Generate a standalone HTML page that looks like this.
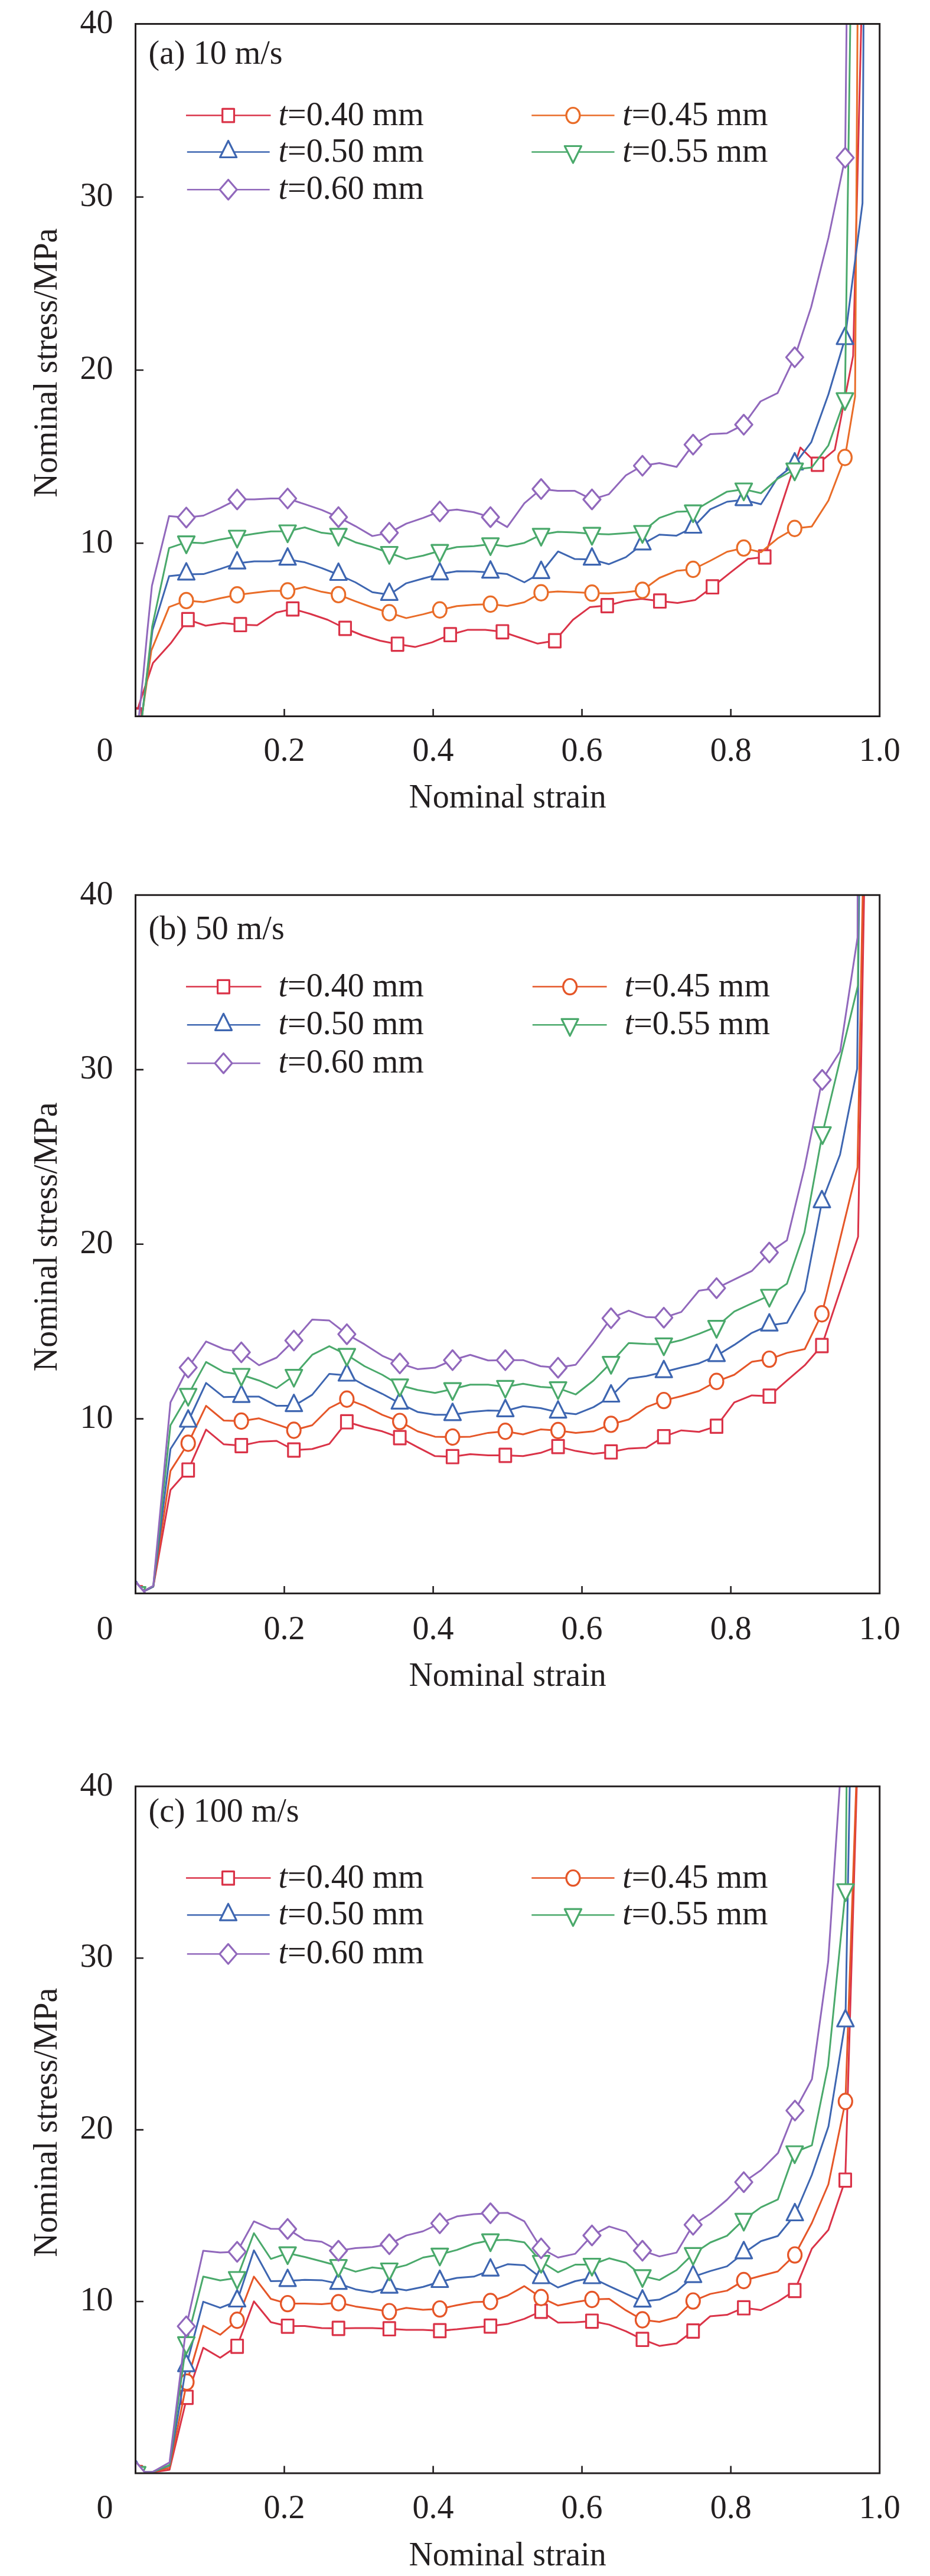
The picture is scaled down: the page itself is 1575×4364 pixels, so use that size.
<!DOCTYPE html>
<html><head><meta charset="utf-8"><title>Nominal stress vs nominal strain</title>
<style>
html,body{margin:0;padding:0;background:#fff;}
svg{display:block;}
text{font-family:"Liberation Serif","Times New Roman",serif;fill:#231f20;}
</style></head><body>
<svg width="1575" height="4364" viewBox="0 0 1575 4364">
<rect x="0" y="0" width="1575" height="4364" fill="#fff"/>
<defs>
<clipPath id="clipa"><rect x="229.5" y="40.5" width="1260.2" height="1173"/></clipPath>
<clipPath id="clipb"><rect x="229.5" y="1516.3" width="1260.2" height="1183.1"/></clipPath>
<clipPath id="clipc"><rect x="229.5" y="3026.3" width="1260.2" height="1163.6"/></clipPath>
</defs>
<g id="panel-a"><g clip-path="url(#clipa)" fill="none" stroke-linejoin="round" stroke-linecap="butt">
<path d="M229.5,1212 L259,1123.2 L289.1,1089.8 L318.3,1049.6 L348.4,1060 L377.4,1055.5 L407,1058.2 L435.5,1059.2 L467.7,1037.7 L495.8,1031.6 L525.4,1040 L555,1050 L584.5,1064.5 L614,1076.5 L643.8,1085.5 L673.2,1091.3 L702.9,1096.1 L731.9,1088.1 L762.5,1075.2 L791.6,1067.1 L821.9,1067.1 L850.9,1070.3 L881,1080.5 L910.6,1090.3 L939.6,1085.5 L970.3,1050 L999.3,1028.4 L1028.4,1026 L1059,1017.9 L1086.4,1014.6 L1117.5,1018.2 L1147.4,1021.5 L1177.2,1016.6 L1206.6,994.2 L1237.7,969.4 L1266.7,946.8 L1295.1,943.5 L1325,851 L1355.5,758.1 L1384.5,786.5 L1413.7,762.2 L1444.8,603 L1462,-100" stroke="#da3348" stroke-width="3.0"/>
<rect x="219.6" y="1199.7" width="19.8" height="22.6" fill="#fff" stroke="#da3348" stroke-width="3.2" stroke-linejoin="round"/>
<rect x="219.6" y="1200.7" width="19.8" height="22.6" fill="#fff" stroke="#da3348" stroke-width="3.2" stroke-linejoin="round"/>
<rect x="308.4" y="1038.3" width="19.8" height="22.6" fill="#fff" stroke="#da3348" stroke-width="3.2" stroke-linejoin="round"/>
<rect x="397.1" y="1046.9" width="19.8" height="22.6" fill="#fff" stroke="#da3348" stroke-width="3.2" stroke-linejoin="round"/>
<rect x="485.9" y="1020.3" width="19.8" height="22.6" fill="#fff" stroke="#da3348" stroke-width="3.2" stroke-linejoin="round"/>
<rect x="574.6" y="1053.2" width="19.8" height="22.6" fill="#fff" stroke="#da3348" stroke-width="3.2" stroke-linejoin="round"/>
<rect x="663.3" y="1080" width="19.8" height="22.6" fill="#fff" stroke="#da3348" stroke-width="3.2" stroke-linejoin="round"/>
<rect x="752.6" y="1063.9" width="19.8" height="22.6" fill="#fff" stroke="#da3348" stroke-width="3.2" stroke-linejoin="round"/>
<rect x="841" y="1059" width="19.8" height="22.6" fill="#fff" stroke="#da3348" stroke-width="3.2" stroke-linejoin="round"/>
<rect x="929.7" y="1074.2" width="19.8" height="22.6" fill="#fff" stroke="#da3348" stroke-width="3.2" stroke-linejoin="round"/>
<rect x="1018.5" y="1014.7" width="19.8" height="22.6" fill="#fff" stroke="#da3348" stroke-width="3.2" stroke-linejoin="round"/>
<rect x="1107.6" y="1006.9" width="19.8" height="22.6" fill="#fff" stroke="#da3348" stroke-width="3.2" stroke-linejoin="round"/>
<rect x="1196.7" y="982.9" width="19.8" height="22.6" fill="#fff" stroke="#da3348" stroke-width="3.2" stroke-linejoin="round"/>
<rect x="1285.2" y="932.2" width="19.8" height="22.6" fill="#fff" stroke="#da3348" stroke-width="3.2" stroke-linejoin="round"/>
<rect x="1374.6" y="775.2" width="19.8" height="22.6" fill="#fff" stroke="#da3348" stroke-width="3.2" stroke-linejoin="round"/>
<path d="M240,1216 L256.4,1101.9 L286.4,1028.4 L315.5,1017.4 L344.5,1020 L372.9,1013.5 L401.6,1007.7 L430.6,1004.2 L458.7,1001 L487.1,1001 L516.1,994.5 L544.8,1002.6 L573.2,1007.4 L601.9,1018.7 L630.6,1029 L659.3,1038 L688,1047.1 L716.7,1040.6 L744.8,1033.2 L773.8,1026.8 L802.5,1024.5 L830.6,1023.5 L859,1026.8 L888,1020.3 L916.4,1004.2 L944.5,1001.9 L973.5,1003.2 L1002.5,1004.8 L1030.9,1005.2 L1060,1003.2 L1088,1000 L1116.7,979 L1145.8,967.1 L1173.8,964.5 L1202.9,950 L1231.3,934.8 L1259.6,928.4 L1288.7,935.5 L1316.7,912.3 L1345.8,895.2 L1374.8,891.9 L1403,848 L1430.9,775 L1448.1,671.8 L1453.2,-100" stroke="#e96c28" stroke-width="3.0"/>
<ellipse cx="315.5" cy="1017.4" rx="11.5" ry="13.1" fill="#fff" stroke="#e96c28" stroke-width="3.2" stroke-linejoin="round"/>
<ellipse cx="401.6" cy="1007.7" rx="11.5" ry="13.1" fill="#fff" stroke="#e96c28" stroke-width="3.2" stroke-linejoin="round"/>
<ellipse cx="487.1" cy="1001" rx="11.5" ry="13.1" fill="#fff" stroke="#e96c28" stroke-width="3.2" stroke-linejoin="round"/>
<ellipse cx="573.2" cy="1007.4" rx="11.5" ry="13.1" fill="#fff" stroke="#e96c28" stroke-width="3.2" stroke-linejoin="round"/>
<ellipse cx="659.3" cy="1038" rx="11.5" ry="13.1" fill="#fff" stroke="#e96c28" stroke-width="3.2" stroke-linejoin="round"/>
<ellipse cx="744.8" cy="1033.2" rx="11.5" ry="13.1" fill="#fff" stroke="#e96c28" stroke-width="3.2" stroke-linejoin="round"/>
<ellipse cx="830.6" cy="1023.5" rx="11.5" ry="13.1" fill="#fff" stroke="#e96c28" stroke-width="3.2" stroke-linejoin="round"/>
<ellipse cx="916.4" cy="1004.2" rx="11.5" ry="13.1" fill="#fff" stroke="#e96c28" stroke-width="3.2" stroke-linejoin="round"/>
<ellipse cx="1002.5" cy="1004.8" rx="11.5" ry="13.1" fill="#fff" stroke="#e96c28" stroke-width="3.2" stroke-linejoin="round"/>
<ellipse cx="1088" cy="1000" rx="11.5" ry="13.1" fill="#fff" stroke="#e96c28" stroke-width="3.2" stroke-linejoin="round"/>
<ellipse cx="1173.8" cy="964.5" rx="11.5" ry="13.1" fill="#fff" stroke="#e96c28" stroke-width="3.2" stroke-linejoin="round"/>
<ellipse cx="1259.6" cy="928.4" rx="11.5" ry="13.1" fill="#fff" stroke="#e96c28" stroke-width="3.2" stroke-linejoin="round"/>
<ellipse cx="1345.8" cy="895.2" rx="11.5" ry="13.1" fill="#fff" stroke="#e96c28" stroke-width="3.2" stroke-linejoin="round"/>
<ellipse cx="1430.9" cy="775" rx="11.5" ry="13.1" fill="#fff" stroke="#e96c28" stroke-width="3.2" stroke-linejoin="round"/>
<path d="M240,1216 L258.3,1067.5 L286.4,976.1 L315.5,972.9 L344.5,972.6 L372.9,963.9 L401.6,954.2 L430.6,951 L458.7,951 L487.1,947.7 L516.1,952.6 L544.8,962.3 L573.2,973.5 L601.9,986.5 L630.6,1003.2 L659.3,1007.4 L688,988.1 L716.7,980 L744.8,972.6 L773.8,967.7 L802.5,968 L830.6,969.7 L859,972.6 L888,986.5 L916.4,970.3 L945.1,934.2 L973.5,947.1 L1002.5,947.7 L1030.9,955.8 L1060,943.9 L1088,921.9 L1116.7,905.8 L1145.8,907.4 L1173.8,893.5 L1202.9,862.9 L1231.3,850 L1259.6,846.8 L1288.7,854.2 L1316.7,809.7 L1345.8,786.5 L1373.9,749.2 L1403,668 L1431,574 L1460.7,344.3 L1463.2,-100" stroke="#3e66b1" stroke-width="3.0"/>
<polygon points="315.5,953.9 329.5,981.9 301.5,981.9" fill="#fff" stroke="#3e66b1" stroke-width="3.2" stroke-linejoin="round"/>
<polygon points="401.6,935.2 415.6,963.2 387.6,963.2" fill="#fff" stroke="#3e66b1" stroke-width="3.2" stroke-linejoin="round"/>
<polygon points="487.1,928.7 501.1,956.7 473.1,956.7" fill="#fff" stroke="#3e66b1" stroke-width="3.2" stroke-linejoin="round"/>
<polygon points="573.2,954.5 587.2,982.5 559.2,982.5" fill="#fff" stroke="#3e66b1" stroke-width="3.2" stroke-linejoin="round"/>
<polygon points="659.3,988.4 673.3,1016.4 645.3,1016.4" fill="#fff" stroke="#3e66b1" stroke-width="3.2" stroke-linejoin="round"/>
<polygon points="744.8,953.6 758.8,981.6 730.8,981.6" fill="#fff" stroke="#3e66b1" stroke-width="3.2" stroke-linejoin="round"/>
<polygon points="830.6,950.7 844.6,978.7 816.6,978.7" fill="#fff" stroke="#3e66b1" stroke-width="3.2" stroke-linejoin="round"/>
<polygon points="916.4,951.3 930.4,979.3 902.4,979.3" fill="#fff" stroke="#3e66b1" stroke-width="3.2" stroke-linejoin="round"/>
<polygon points="1002.5,928.7 1016.5,956.7 988.5,956.7" fill="#fff" stroke="#3e66b1" stroke-width="3.2" stroke-linejoin="round"/>
<polygon points="1088,902.9 1102,930.9 1074,930.9" fill="#fff" stroke="#3e66b1" stroke-width="3.2" stroke-linejoin="round"/>
<polygon points="1173.8,874.5 1187.8,902.5 1159.8,902.5" fill="#fff" stroke="#3e66b1" stroke-width="3.2" stroke-linejoin="round"/>
<polygon points="1259.6,827.8 1273.6,855.8 1245.6,855.8" fill="#fff" stroke="#3e66b1" stroke-width="3.2" stroke-linejoin="round"/>
<polygon points="1345.8,767.5 1359.8,795.5 1331.8,795.5" fill="#fff" stroke="#3e66b1" stroke-width="3.2" stroke-linejoin="round"/>
<polygon points="1431,555 1445,583 1417,583" fill="#fff" stroke="#3e66b1" stroke-width="3.2" stroke-linejoin="round"/>
<path d="M240.5,1216 L257.8,1061 L286.4,928.4 L315.5,918.7 L344.5,920.3 L372.9,913.9 L401.6,909 L430.6,904.2 L458.7,900.3 L487.1,900 L516.1,893.5 L544.8,902.6 L573.2,905.8 L601.9,918.7 L630.6,926.8 L659.3,936.5 L688,947.1 L716.7,941.3 L744.8,933.2 L773.8,926.8 L802.5,925.2 L830.6,921.9 L859,925.8 L888,919.7 L916.4,905.8 L944.5,901 L973.5,901.9 L1002.5,904.2 L1030.9,905.2 L1060,903.2 L1088,901 L1116.7,877.4 L1145.8,867.1 L1173.8,866.1 L1202.9,849 L1231.3,832.9 L1259.6,829 L1288.7,835.5 L1316.7,811.3 L1345.8,795.2 L1374.8,791.9 L1402.9,754.6 L1430.9,676 L1442,-100" stroke="#4aa96b" stroke-width="3.0"/>
<polygon points="301.4,908.7 329.6,908.7 315.5,937.2" fill="#fff" stroke="#4aa96b" stroke-width="3.2" stroke-linejoin="round"/>
<polygon points="387.5,899 415.7,899 401.6,927.5" fill="#fff" stroke="#4aa96b" stroke-width="3.2" stroke-linejoin="round"/>
<polygon points="473,890 501.2,890 487.1,918.5" fill="#fff" stroke="#4aa96b" stroke-width="3.2" stroke-linejoin="round"/>
<polygon points="559.1,895.8 587.3,895.8 573.2,924.3" fill="#fff" stroke="#4aa96b" stroke-width="3.2" stroke-linejoin="round"/>
<polygon points="645.2,926.5 673.4,926.5 659.3,955" fill="#fff" stroke="#4aa96b" stroke-width="3.2" stroke-linejoin="round"/>
<polygon points="730.7,923.2 758.9,923.2 744.8,951.7" fill="#fff" stroke="#4aa96b" stroke-width="3.2" stroke-linejoin="round"/>
<polygon points="816.5,911.9 844.7,911.9 830.6,940.4" fill="#fff" stroke="#4aa96b" stroke-width="3.2" stroke-linejoin="round"/>
<polygon points="902.3,895.8 930.5,895.8 916.4,924.3" fill="#fff" stroke="#4aa96b" stroke-width="3.2" stroke-linejoin="round"/>
<polygon points="988.4,894.2 1016.6,894.2 1002.5,922.7" fill="#fff" stroke="#4aa96b" stroke-width="3.2" stroke-linejoin="round"/>
<polygon points="1073.9,891 1102.1,891 1088,919.5" fill="#fff" stroke="#4aa96b" stroke-width="3.2" stroke-linejoin="round"/>
<polygon points="1159.7,856.1 1187.9,856.1 1173.8,884.6" fill="#fff" stroke="#4aa96b" stroke-width="3.2" stroke-linejoin="round"/>
<polygon points="1245.5,819 1273.7,819 1259.6,847.5" fill="#fff" stroke="#4aa96b" stroke-width="3.2" stroke-linejoin="round"/>
<polygon points="1331.7,785.2 1359.9,785.2 1345.8,813.7" fill="#fff" stroke="#4aa96b" stroke-width="3.2" stroke-linejoin="round"/>
<polygon points="1416.8,666 1445,666 1430.9,694.5" fill="#fff" stroke="#4aa96b" stroke-width="3.2" stroke-linejoin="round"/>
<path d="M235.3,1214 L242.7,1142.8 L249.7,1067.5 L257.3,992.3 L286.4,874.2 L315.5,876.8 L344.5,873.5 L372.9,860.6 L401.6,846.1 L430.6,846.1 L458.7,844.5 L487.1,844.5 L516.1,854.2 L544.8,863.9 L573.2,876.1 L601.9,891.3 L630.6,908.1 L659.3,902.6 L688,887.1 L716.7,877.4 L744.8,866.5 L773.8,863.2 L802.5,867.7 L830.6,876.1 L859,892.9 L888,852.6 L916.4,828.4 L944.5,831.6 L973.5,831.6 L1002.5,846.1 L1030.9,837.4 L1060,805.2 L1088,789 L1116.7,784.5 L1145.8,791 L1173.8,753.2 L1202.9,735.5 L1231.3,733.9 L1259.6,719.4 L1288,680 L1316.9,665.8 L1345.9,605.2 L1373.7,520.4 L1403,403 L1431.3,267.2 L1435.2,-100" stroke="#9168bc" stroke-width="3.0"/>
<polygon points="315.5,860 330,876.8 315.5,893.6 301,876.8" fill="#fff" stroke="#9168bc" stroke-width="3.2" stroke-linejoin="round"/>
<polygon points="401.6,829.3 416.1,846.1 401.6,862.9 387.1,846.1" fill="#fff" stroke="#9168bc" stroke-width="3.2" stroke-linejoin="round"/>
<polygon points="487.1,827.7 501.6,844.5 487.1,861.3 472.6,844.5" fill="#fff" stroke="#9168bc" stroke-width="3.2" stroke-linejoin="round"/>
<polygon points="573.2,859.3 587.7,876.1 573.2,892.9 558.7,876.1" fill="#fff" stroke="#9168bc" stroke-width="3.2" stroke-linejoin="round"/>
<polygon points="659.3,885.8 673.8,902.6 659.3,919.4 644.8,902.6" fill="#fff" stroke="#9168bc" stroke-width="3.2" stroke-linejoin="round"/>
<polygon points="744.8,849.7 759.3,866.5 744.8,883.3 730.3,866.5" fill="#fff" stroke="#9168bc" stroke-width="3.2" stroke-linejoin="round"/>
<polygon points="830.6,859.3 845.1,876.1 830.6,892.9 816.1,876.1" fill="#fff" stroke="#9168bc" stroke-width="3.2" stroke-linejoin="round"/>
<polygon points="916.4,811.6 930.9,828.4 916.4,845.2 901.9,828.4" fill="#fff" stroke="#9168bc" stroke-width="3.2" stroke-linejoin="round"/>
<polygon points="1002.5,829.3 1017,846.1 1002.5,862.9 988,846.1" fill="#fff" stroke="#9168bc" stroke-width="3.2" stroke-linejoin="round"/>
<polygon points="1088,772.2 1102.5,789 1088,805.8 1073.5,789" fill="#fff" stroke="#9168bc" stroke-width="3.2" stroke-linejoin="round"/>
<polygon points="1173.8,736.4 1188.3,753.2 1173.8,770 1159.3,753.2" fill="#fff" stroke="#9168bc" stroke-width="3.2" stroke-linejoin="round"/>
<polygon points="1259.6,702.6 1274.1,719.4 1259.6,736.2 1245.1,719.4" fill="#fff" stroke="#9168bc" stroke-width="3.2" stroke-linejoin="round"/>
<polygon points="1345.9,588.4 1360.4,605.2 1345.9,622 1331.4,605.2" fill="#fff" stroke="#9168bc" stroke-width="3.2" stroke-linejoin="round"/>
<polygon points="1431.3,250.4 1445.8,267.2 1431.3,284 1416.8,267.2" fill="#fff" stroke="#9168bc" stroke-width="3.2" stroke-linejoin="round"/>
</g>
<rect x="229.5" y="40.5" width="1260.2" height="1173" fill="none" stroke="#231f20" stroke-width="3"/>
<path d="M229.5,920.2 h13.5 M229.5,627 h13.5 M229.5,333.8 h13.5 M481.5,1213.5 v-12.5 M733.6,1213.5 v-12.5 M985.6,1213.5 v-12.5 M1237.7,1213.5 v-12.5" stroke="#231f20" stroke-width="2.6" fill="none"/>
<text x="191.5" y="935.5" font-size="56" text-anchor="end">10</text>
<text x="191.5" y="642.2" font-size="56" text-anchor="end">20</text>
<text x="191.5" y="348.9" font-size="56" text-anchor="end">30</text>
<text x="191.5" y="55.7" font-size="56" text-anchor="end">40</text>
<text x="191.5" y="1289.3" font-size="56" text-anchor="end">0</text>
<text x="481.5" y="1289.3" font-size="56" text-anchor="middle">0.2</text>
<text x="733.6" y="1289.3" font-size="56" text-anchor="middle">0.4</text>
<text x="985.6" y="1289.3" font-size="56" text-anchor="middle">0.6</text>
<text x="1237.7" y="1289.3" font-size="56" text-anchor="middle">0.8</text>
<text x="1489.7" y="1289.3" font-size="56" text-anchor="middle">1.0</text>
<text x="859.6" y="1367.5" font-size="56" text-anchor="middle">Nominal strain</text>
<text transform="translate(96.3,614.5) rotate(-90)" x="0" y="0" font-size="56" text-anchor="middle">Nominal stress/MPa</text>
<text x="251.5" y="108" font-size="56">(a) 10 m/s</text>
<path d="M315,195.6 H458.5" stroke="#da3348" stroke-width="2.5"/>
<rect x="376.7" y="184.3" width="19.8" height="22.6" fill="#fff" stroke="#da3348" stroke-width="3.2" stroke-linejoin="round"/>
<text x="471.5" y="211.6" font-size="56"><tspan font-style="italic">t</tspan>=0.40 mm</text>
<path d="M316.8,257.5 H456.7" stroke="#3e66b1" stroke-width="2.5"/>
<polygon points="386.6,238.5 400.6,266.5 372.6,266.5" fill="#fff" stroke="#3e66b1" stroke-width="3.2" stroke-linejoin="round"/>
<text x="471.5" y="273.5" font-size="56"><tspan font-style="italic">t</tspan>=0.50 mm</text>
<path d="M316.8,321.3 H456.7" stroke="#9168bc" stroke-width="2.5"/>
<polygon points="386.6,304.5 401.1,321.3 386.6,338.1 372.1,321.3" fill="#fff" stroke="#9168bc" stroke-width="3.2" stroke-linejoin="round"/>
<text x="471.5" y="337.3" font-size="56"><tspan font-style="italic">t</tspan>=0.60 mm</text>
<path d="M900.3,195.6 H1040.6" stroke="#e96c28" stroke-width="2.5"/>
<ellipse cx="970.5" cy="195.6" rx="11.5" ry="13.1" fill="#fff" stroke="#e96c28" stroke-width="3.2" stroke-linejoin="round"/>
<text x="1054.3" y="211.6" font-size="56"><tspan font-style="italic">t</tspan>=0.45 mm</text>
<path d="M900.3,257.5 H1040.6" stroke="#4aa96b" stroke-width="2.5"/>
<polygon points="956.4,247.5 984.6,247.5 970.5,276" fill="#fff" stroke="#4aa96b" stroke-width="3.2" stroke-linejoin="round"/>
<text x="1054.3" y="273.5" font-size="56"><tspan font-style="italic">t</tspan>=0.55 mm</text></g>
<g id="panel-b"><g clip-path="url(#clipb)" fill="none" stroke-linejoin="round" stroke-linecap="butt">
<path d="M230.6,2681 L243.5,2696 L259.6,2688 L288.7,2524.2 L318.7,2490.3 L349,2421.9 L379,2446.8 L408.7,2449 L438.7,2442.6 L468.4,2441 L497.7,2456.5 L528.7,2454.8 L557.7,2446.1 L587.4,2408.7 L617.4,2417.7 L647.4,2424.8 L677.1,2435.5 L707.1,2451.6 L736.7,2466.8 L766.4,2467.7 L796.4,2463.5 L826.7,2465.5 L855.8,2465.5 L885.8,2466.8 L915.5,2461.3 L945.1,2450.6 L975.1,2458.1 L1005.1,2462.9 L1034.8,2459.7 L1064.8,2453.9 L1094.5,2452.6 L1124.2,2433.9 L1153.8,2423.2 L1183.8,2425.8 L1213.5,2416.1 L1243.5,2375.8 L1273.2,2363.9 L1302.9,2365.2 L1332.9,2338.7 L1362.9,2312.9 L1391.9,2279.5 L1453.2,2095.1 L1465.4,1400" stroke="#da3348" stroke-width="3.0"/>
<rect x="221" y="2686.9" width="19.8" height="22.6" fill="#fff" stroke="#da3348" stroke-width="3.2" stroke-linejoin="round"/>
<rect x="308.8" y="2479" width="19.8" height="22.6" fill="#fff" stroke="#da3348" stroke-width="3.2" stroke-linejoin="round"/>
<rect x="398.8" y="2437.7" width="19.8" height="22.6" fill="#fff" stroke="#da3348" stroke-width="3.2" stroke-linejoin="round"/>
<rect x="487.8" y="2445.2" width="19.8" height="22.6" fill="#fff" stroke="#da3348" stroke-width="3.2" stroke-linejoin="round"/>
<rect x="577.5" y="2397.4" width="19.8" height="22.6" fill="#fff" stroke="#da3348" stroke-width="3.2" stroke-linejoin="round"/>
<rect x="667.2" y="2424.2" width="19.8" height="22.6" fill="#fff" stroke="#da3348" stroke-width="3.2" stroke-linejoin="round"/>
<rect x="756.5" y="2456.4" width="19.8" height="22.6" fill="#fff" stroke="#da3348" stroke-width="3.2" stroke-linejoin="round"/>
<rect x="845.9" y="2454.2" width="19.8" height="22.6" fill="#fff" stroke="#da3348" stroke-width="3.2" stroke-linejoin="round"/>
<rect x="935.2" y="2439.3" width="19.8" height="22.6" fill="#fff" stroke="#da3348" stroke-width="3.2" stroke-linejoin="round"/>
<rect x="1024.9" y="2448.4" width="19.8" height="22.6" fill="#fff" stroke="#da3348" stroke-width="3.2" stroke-linejoin="round"/>
<rect x="1114.3" y="2422.6" width="19.8" height="22.6" fill="#fff" stroke="#da3348" stroke-width="3.2" stroke-linejoin="round"/>
<rect x="1203.6" y="2404.8" width="19.8" height="22.6" fill="#fff" stroke="#da3348" stroke-width="3.2" stroke-linejoin="round"/>
<rect x="1293" y="2353.9" width="19.8" height="22.6" fill="#fff" stroke="#da3348" stroke-width="3.2" stroke-linejoin="round"/>
<rect x="1382" y="2268.2" width="19.8" height="22.6" fill="#fff" stroke="#da3348" stroke-width="3.2" stroke-linejoin="round"/>
<path d="M230.6,2681 L243.5,2695.5 L259.6,2687.5 L288.7,2491.9 L318.7,2445 L349,2381.6 L379,2406.5 L408.7,2407.5 L438.7,2402.8 L468.4,2412.9 L497.7,2423 L528.7,2414.5 L557.7,2385.5 L587.4,2370.3 L617.4,2381.6 L647.4,2396.8 L677.1,2408.1 L707.1,2424.8 L736.7,2433.9 L766.4,2434.5 L796.4,2433.9 L826.7,2427.4 L855.8,2424.8 L885.8,2430 L915.5,2421.6 L945.1,2423.5 L975.1,2427.4 L1005.1,2424.8 L1034.8,2412.9 L1064.8,2404.8 L1094.5,2383.9 L1124.2,2372.6 L1153.8,2365.2 L1183.8,2356.5 L1213.5,2340.3 L1243.5,2329 L1273.2,2307.1 L1302.9,2302.6 L1332.9,2291.9 L1362.9,2285.5 L1391.9,2225.8 L1452.2,1977.7 L1463.2,1400" stroke="#e55628" stroke-width="3.0"/>
<ellipse cx="231" cy="2698.4" rx="11.5" ry="13.1" fill="#fff" stroke="#e55628" stroke-width="3.2" stroke-linejoin="round"/>
<ellipse cx="318.7" cy="2445" rx="11.5" ry="13.1" fill="#fff" stroke="#e55628" stroke-width="3.2" stroke-linejoin="round"/>
<ellipse cx="408.7" cy="2407.5" rx="11.5" ry="13.1" fill="#fff" stroke="#e55628" stroke-width="3.2" stroke-linejoin="round"/>
<ellipse cx="497.7" cy="2423" rx="11.5" ry="13.1" fill="#fff" stroke="#e55628" stroke-width="3.2" stroke-linejoin="round"/>
<ellipse cx="587.4" cy="2370.3" rx="11.5" ry="13.1" fill="#fff" stroke="#e55628" stroke-width="3.2" stroke-linejoin="round"/>
<ellipse cx="677.1" cy="2408.1" rx="11.5" ry="13.1" fill="#fff" stroke="#e55628" stroke-width="3.2" stroke-linejoin="round"/>
<ellipse cx="766.4" cy="2434.5" rx="11.5" ry="13.1" fill="#fff" stroke="#e55628" stroke-width="3.2" stroke-linejoin="round"/>
<ellipse cx="855.8" cy="2424.8" rx="11.5" ry="13.1" fill="#fff" stroke="#e55628" stroke-width="3.2" stroke-linejoin="round"/>
<ellipse cx="945.1" cy="2423.5" rx="11.5" ry="13.1" fill="#fff" stroke="#e55628" stroke-width="3.2" stroke-linejoin="round"/>
<ellipse cx="1034.8" cy="2412.9" rx="11.5" ry="13.1" fill="#fff" stroke="#e55628" stroke-width="3.2" stroke-linejoin="round"/>
<ellipse cx="1124.2" cy="2372.6" rx="11.5" ry="13.1" fill="#fff" stroke="#e55628" stroke-width="3.2" stroke-linejoin="round"/>
<ellipse cx="1213.5" cy="2340.3" rx="11.5" ry="13.1" fill="#fff" stroke="#e55628" stroke-width="3.2" stroke-linejoin="round"/>
<ellipse cx="1302.9" cy="2302.6" rx="11.5" ry="13.1" fill="#fff" stroke="#e55628" stroke-width="3.2" stroke-linejoin="round"/>
<ellipse cx="1391.9" cy="2225.8" rx="11.5" ry="13.1" fill="#fff" stroke="#e55628" stroke-width="3.2" stroke-linejoin="round"/>
<path d="M230.6,2681 L243.5,2696 L259.6,2688 L288.7,2454.8 L318.7,2408 L349,2342.9 L379,2366.8 L408.7,2366.1 L438.7,2366.1 L468.4,2381.6 L497.7,2381.6 L528.7,2362.9 L557.7,2327.4 L587.4,2330 L617.4,2346.8 L647.4,2361.3 L677.1,2377.4 L707.1,2391.9 L736.7,2396.8 L766.4,2396.8 L796.4,2391.9 L826.7,2389.4 L855.8,2390.3 L885.8,2382.3 L915.5,2385.5 L945.1,2392.6 L975.1,2395.8 L1005.1,2383.9 L1034.8,2365.5 L1064.8,2335.5 L1094.5,2331.3 L1124.2,2324.2 L1153.8,2316.8 L1183.8,2309.7 L1213.5,2296.8 L1243.5,2278.4 L1273.2,2258.1 L1302.9,2245.2 L1332.9,2241 L1362.9,2187 L1391.9,2036.3 L1422.6,1956.2 L1451.6,1810.5 L1456.3,1400" stroke="#3e66b1" stroke-width="3.0"/>
<polygon points="231,2679.4 245,2707.4 217,2707.4" fill="#fff" stroke="#3e66b1" stroke-width="3.2" stroke-linejoin="round"/>
<polygon points="318.7,2389 332.7,2417 304.7,2417" fill="#fff" stroke="#3e66b1" stroke-width="3.2" stroke-linejoin="round"/>
<polygon points="408.7,2347.1 422.7,2375.1 394.7,2375.1" fill="#fff" stroke="#3e66b1" stroke-width="3.2" stroke-linejoin="round"/>
<polygon points="497.7,2362.6 511.7,2390.6 483.7,2390.6" fill="#fff" stroke="#3e66b1" stroke-width="3.2" stroke-linejoin="round"/>
<polygon points="587.4,2311 601.4,2339 573.4,2339" fill="#fff" stroke="#3e66b1" stroke-width="3.2" stroke-linejoin="round"/>
<polygon points="677.1,2358.4 691.1,2386.4 663.1,2386.4" fill="#fff" stroke="#3e66b1" stroke-width="3.2" stroke-linejoin="round"/>
<polygon points="766.4,2377.8 780.4,2405.8 752.4,2405.8" fill="#fff" stroke="#3e66b1" stroke-width="3.2" stroke-linejoin="round"/>
<polygon points="855.8,2371.3 869.8,2399.3 841.8,2399.3" fill="#fff" stroke="#3e66b1" stroke-width="3.2" stroke-linejoin="round"/>
<polygon points="945.1,2373.6 959.1,2401.6 931.1,2401.6" fill="#fff" stroke="#3e66b1" stroke-width="3.2" stroke-linejoin="round"/>
<polygon points="1034.8,2346.5 1048.8,2374.5 1020.8,2374.5" fill="#fff" stroke="#3e66b1" stroke-width="3.2" stroke-linejoin="round"/>
<polygon points="1124.2,2305.2 1138.2,2333.2 1110.2,2333.2" fill="#fff" stroke="#3e66b1" stroke-width="3.2" stroke-linejoin="round"/>
<polygon points="1213.5,2277.8 1227.5,2305.8 1199.5,2305.8" fill="#fff" stroke="#3e66b1" stroke-width="3.2" stroke-linejoin="round"/>
<polygon points="1302.9,2226.2 1316.9,2254.2 1288.9,2254.2" fill="#fff" stroke="#3e66b1" stroke-width="3.2" stroke-linejoin="round"/>
<polygon points="1391.9,2017.3 1405.9,2045.3 1377.9,2045.3" fill="#fff" stroke="#3e66b1" stroke-width="3.2" stroke-linejoin="round"/>
<path d="M230.6,2681 L243.5,2695 L259.6,2687 L288.7,2414.5 L318.7,2362.9 L349,2307.4 L379,2324.2 L408.7,2329 L438.7,2338.7 L468.4,2351.6 L497.7,2330.6 L528.7,2295.2 L557.7,2280.6 L587.4,2295.2 L617.4,2314.5 L647.4,2329 L677.1,2346.8 L707.1,2354.8 L736.7,2359.7 L766.4,2353.2 L796.4,2345.8 L826.7,2345.8 L855.8,2349.4 L885.8,2344.2 L915.5,2349.4 L945.1,2351.6 L975.1,2362.3 L1005.1,2338.7 L1034.8,2308.7 L1064.8,2275.2 L1094.5,2276.8 L1124.2,2277.4 L1153.8,2270.3 L1183.8,2259.7 L1213.5,2247.7 L1243.5,2221.9 L1273.2,2208.1 L1302.9,2195 L1332.7,2174.8 L1362.3,2088 L1393,1919.5 L1453,1669.4 L1454.2,1400" stroke="#4aa96b" stroke-width="3.0"/>
<polygon points="218.2,2688.6 246.4,2688.6 232.3,2717.1" fill="#fff" stroke="#4aa96b" stroke-width="3.2" stroke-linejoin="round"/>
<polygon points="304.6,2352.9 332.8,2352.9 318.7,2381.4" fill="#fff" stroke="#4aa96b" stroke-width="3.2" stroke-linejoin="round"/>
<polygon points="394.6,2319 422.8,2319 408.7,2347.5" fill="#fff" stroke="#4aa96b" stroke-width="3.2" stroke-linejoin="round"/>
<polygon points="483.6,2320.6 511.8,2320.6 497.7,2349.1" fill="#fff" stroke="#4aa96b" stroke-width="3.2" stroke-linejoin="round"/>
<polygon points="573.3,2285.2 601.5,2285.2 587.4,2313.7" fill="#fff" stroke="#4aa96b" stroke-width="3.2" stroke-linejoin="round"/>
<polygon points="663,2336.8 691.2,2336.8 677.1,2365.3" fill="#fff" stroke="#4aa96b" stroke-width="3.2" stroke-linejoin="round"/>
<polygon points="752.3,2343.2 780.5,2343.2 766.4,2371.7" fill="#fff" stroke="#4aa96b" stroke-width="3.2" stroke-linejoin="round"/>
<polygon points="841.7,2339.4 869.9,2339.4 855.8,2367.9" fill="#fff" stroke="#4aa96b" stroke-width="3.2" stroke-linejoin="round"/>
<polygon points="931,2341.6 959.2,2341.6 945.1,2370.1" fill="#fff" stroke="#4aa96b" stroke-width="3.2" stroke-linejoin="round"/>
<polygon points="1020.7,2298.7 1048.9,2298.7 1034.8,2327.2" fill="#fff" stroke="#4aa96b" stroke-width="3.2" stroke-linejoin="round"/>
<polygon points="1110.1,2267.4 1138.3,2267.4 1124.2,2295.9" fill="#fff" stroke="#4aa96b" stroke-width="3.2" stroke-linejoin="round"/>
<polygon points="1199.4,2237.7 1227.6,2237.7 1213.5,2266.2" fill="#fff" stroke="#4aa96b" stroke-width="3.2" stroke-linejoin="round"/>
<polygon points="1288.8,2185 1317,2185 1302.9,2213.5" fill="#fff" stroke="#4aa96b" stroke-width="3.2" stroke-linejoin="round"/>
<polygon points="1378.9,1909.5 1407.1,1909.5 1393,1938" fill="#fff" stroke="#4aa96b" stroke-width="3.2" stroke-linejoin="round"/>
<path d="M230.6,2680 L243.5,2695.5 L259.6,2686.5 L288.7,2375.8 L318.7,2316.8 L349,2272.6 L379,2285.5 L408.7,2291 L438.7,2312.9 L468.4,2300 L497.7,2271 L528.7,2235.5 L557.7,2237.1 L587.4,2260.3 L617.4,2277.4 L647.4,2296.8 L677.1,2309.7 L707.1,2319.4 L736.7,2317.1 L766.4,2304.2 L796.4,2295.2 L826.7,2304.8 L855.8,2304.2 L885.8,2304.2 L915.5,2314.5 L945.1,2317.1 L975.1,2311.9 L1005.1,2274.2 L1034.8,2233.2 L1064.8,2220.3 L1094.5,2231.3 L1124.2,2232.3 L1153.8,2222.6 L1183.8,2186.5 L1213.5,2182.3 L1243.5,2167.7 L1273.2,2153.2 L1302.9,2121.9 L1332.7,2101.3 L1362.5,1978 L1392.4,1829.4 L1422.9,1781.2 L1452.3,1588.3 L1452.6,1400" stroke="#9168bc" stroke-width="3.0"/>
<polygon points="231,2681.6 245.5,2698.4 231,2715.2 216.5,2698.4" fill="#fff" stroke="#9168bc" stroke-width="3.2" stroke-linejoin="round"/>
<polygon points="318.7,2300 333.2,2316.8 318.7,2333.6 304.2,2316.8" fill="#fff" stroke="#9168bc" stroke-width="3.2" stroke-linejoin="round"/>
<polygon points="408.7,2274.2 423.2,2291 408.7,2307.8 394.2,2291" fill="#fff" stroke="#9168bc" stroke-width="3.2" stroke-linejoin="round"/>
<polygon points="497.7,2254.2 512.2,2271 497.7,2287.8 483.2,2271" fill="#fff" stroke="#9168bc" stroke-width="3.2" stroke-linejoin="round"/>
<polygon points="587.4,2243.5 601.9,2260.3 587.4,2277.1 572.9,2260.3" fill="#fff" stroke="#9168bc" stroke-width="3.2" stroke-linejoin="round"/>
<polygon points="677.1,2292.9 691.6,2309.7 677.1,2326.5 662.6,2309.7" fill="#fff" stroke="#9168bc" stroke-width="3.2" stroke-linejoin="round"/>
<polygon points="766.4,2287.4 780.9,2304.2 766.4,2321 751.9,2304.2" fill="#fff" stroke="#9168bc" stroke-width="3.2" stroke-linejoin="round"/>
<polygon points="855.8,2287.4 870.3,2304.2 855.8,2321 841.3,2304.2" fill="#fff" stroke="#9168bc" stroke-width="3.2" stroke-linejoin="round"/>
<polygon points="945.1,2300.3 959.6,2317.1 945.1,2333.9 930.6,2317.1" fill="#fff" stroke="#9168bc" stroke-width="3.2" stroke-linejoin="round"/>
<polygon points="1034.8,2216.4 1049.3,2233.2 1034.8,2250 1020.3,2233.2" fill="#fff" stroke="#9168bc" stroke-width="3.2" stroke-linejoin="round"/>
<polygon points="1124.2,2215.5 1138.7,2232.3 1124.2,2249.1 1109.7,2232.3" fill="#fff" stroke="#9168bc" stroke-width="3.2" stroke-linejoin="round"/>
<polygon points="1213.5,2165.5 1228,2182.3 1213.5,2199.1 1199,2182.3" fill="#fff" stroke="#9168bc" stroke-width="3.2" stroke-linejoin="round"/>
<polygon points="1302.9,2105.1 1317.4,2121.9 1302.9,2138.7 1288.4,2121.9" fill="#fff" stroke="#9168bc" stroke-width="3.2" stroke-linejoin="round"/>
<polygon points="1392.4,1812.6 1406.9,1829.4 1392.4,1846.2 1377.9,1829.4" fill="#fff" stroke="#9168bc" stroke-width="3.2" stroke-linejoin="round"/>
</g>
<rect x="229.5" y="1516.3" width="1260.2" height="1183.1" fill="none" stroke="#231f20" stroke-width="3"/>
<path d="M229.5,2403.6 h13.5 M229.5,2107.8 h13.5 M229.5,1812.1 h13.5 M481.5,2699.4 v-12.5 M733.6,2699.4 v-12.5 M985.6,2699.4 v-12.5 M1237.7,2699.4 v-12.5" stroke="#231f20" stroke-width="2.6" fill="none"/>
<text x="191.5" y="2418.8" font-size="56" text-anchor="end">10</text>
<text x="191.5" y="2123" font-size="56" text-anchor="end">20</text>
<text x="191.5" y="1827.3" font-size="56" text-anchor="end">30</text>
<text x="191.5" y="1531.5" font-size="56" text-anchor="end">40</text>
<text x="191.5" y="2776.5" font-size="56" text-anchor="end">0</text>
<text x="481.5" y="2776.5" font-size="56" text-anchor="middle">0.2</text>
<text x="733.6" y="2776.5" font-size="56" text-anchor="middle">0.4</text>
<text x="985.6" y="2776.5" font-size="56" text-anchor="middle">0.6</text>
<text x="1237.7" y="2776.5" font-size="56" text-anchor="middle">0.8</text>
<text x="1489.7" y="2776.5" font-size="56" text-anchor="middle">1.0</text>
<text x="859.6" y="2855.5" font-size="56" text-anchor="middle">Nominal strain</text>
<text transform="translate(96.3,2095.3) rotate(-90)" x="0" y="0" font-size="56" text-anchor="middle">Nominal stress/MPa</text>
<text x="251.5" y="1591" font-size="56">(b) 50 m/s</text>
<path d="M315,1671.6 H442.6" stroke="#da3348" stroke-width="2.5"/>
<rect x="368.6" y="1660.3" width="19.8" height="22.6" fill="#fff" stroke="#da3348" stroke-width="3.2" stroke-linejoin="round"/>
<text x="471.5" y="1687.6" font-size="56"><tspan font-style="italic">t</tspan>=0.40 mm</text>
<path d="M316.8,1736.3 H440.8" stroke="#3e66b1" stroke-width="2.5"/>
<polygon points="378.5,1717.3 392.5,1745.3 364.5,1745.3" fill="#fff" stroke="#3e66b1" stroke-width="3.2" stroke-linejoin="round"/>
<text x="471.5" y="1752.3" font-size="56"><tspan font-style="italic">t</tspan>=0.50 mm</text>
<path d="M316.8,1801.3 H440.8" stroke="#9168bc" stroke-width="2.5"/>
<polygon points="378.5,1784.5 393,1801.3 378.5,1818.1 364,1801.3" fill="#fff" stroke="#9168bc" stroke-width="3.2" stroke-linejoin="round"/>
<text x="471.5" y="1817.3" font-size="56"><tspan font-style="italic">t</tspan>=0.60 mm</text>
<path d="M901.8,1671.6 H1027.6" stroke="#e55628" stroke-width="2.5"/>
<ellipse cx="965.2" cy="1671.6" rx="11.5" ry="13.1" fill="#fff" stroke="#e55628" stroke-width="3.2" stroke-linejoin="round"/>
<text x="1057.7" y="1687.6" font-size="56"><tspan font-style="italic">t</tspan>=0.45 mm</text>
<path d="M901.8,1736.3 H1027.6" stroke="#4aa96b" stroke-width="2.5"/>
<polygon points="951.1,1726.3 979.3,1726.3 965.2,1754.8" fill="#fff" stroke="#4aa96b" stroke-width="3.2" stroke-linejoin="round"/>
<text x="1057.7" y="1752.3" font-size="56"><tspan font-style="italic">t</tspan>=0.55 mm</text></g>
<g id="panel-c"><g clip-path="url(#clipc)" fill="none" stroke-linejoin="round" stroke-linecap="butt">
<path d="M230.6,4172 L243.5,4188.5 L258,4188.5 L287.1,4183.9 L316.5,4061.3 L344.2,3977.4 L372.9,3994.2 L401.6,3974.8 L430,3898.7 L458.7,3934 L487.1,3940.8 L516.1,3940.5 L544.8,3943.9 L573.2,3944.5 L602.2,3943.9 L630.6,3943.9 L659.3,3945.2 L688,3947.1 L716.4,3947.1 L744.8,3948.4 L773.8,3946.1 L802.5,3942.9 L830.6,3940.6 L859.6,3937.1 L888,3928.4 L916.4,3915.5 L945.1,3934.8 L974.2,3934.2 L1002.5,3932.3 L1031.6,3938.1 L1060,3949.4 L1088,3963.2 L1116.7,3974.2 L1145.8,3970 L1173.8,3949 L1202.9,3923.9 L1231.3,3921.6 L1259.6,3909.7 L1288.7,3913.5 L1317.7,3899 L1345.9,3880.4 L1374.9,3809.5 L1402.9,3777.8 L1431.5,3693.3 L1453.2,2950" stroke="#da3348" stroke-width="3.0"/>
<rect x="221" y="4177.3" width="19.8" height="22.6" fill="#fff" stroke="#da3348" stroke-width="3.2" stroke-linejoin="round"/>
<rect x="306.6" y="4050" width="19.8" height="22.6" fill="#fff" stroke="#da3348" stroke-width="3.2" stroke-linejoin="round"/>
<rect x="391.7" y="3963.5" width="19.8" height="22.6" fill="#fff" stroke="#da3348" stroke-width="3.2" stroke-linejoin="round"/>
<rect x="477.2" y="3929.5" width="19.8" height="22.6" fill="#fff" stroke="#da3348" stroke-width="3.2" stroke-linejoin="round"/>
<rect x="563.3" y="3933.2" width="19.8" height="22.6" fill="#fff" stroke="#da3348" stroke-width="3.2" stroke-linejoin="round"/>
<rect x="649.4" y="3933.9" width="19.8" height="22.6" fill="#fff" stroke="#da3348" stroke-width="3.2" stroke-linejoin="round"/>
<rect x="734.9" y="3937.1" width="19.8" height="22.6" fill="#fff" stroke="#da3348" stroke-width="3.2" stroke-linejoin="round"/>
<rect x="820.7" y="3929.3" width="19.8" height="22.6" fill="#fff" stroke="#da3348" stroke-width="3.2" stroke-linejoin="round"/>
<rect x="906.5" y="3904.2" width="19.8" height="22.6" fill="#fff" stroke="#da3348" stroke-width="3.2" stroke-linejoin="round"/>
<rect x="992.6" y="3921" width="19.8" height="22.6" fill="#fff" stroke="#da3348" stroke-width="3.2" stroke-linejoin="round"/>
<rect x="1078.1" y="3951.9" width="19.8" height="22.6" fill="#fff" stroke="#da3348" stroke-width="3.2" stroke-linejoin="round"/>
<rect x="1163.9" y="3937.7" width="19.8" height="22.6" fill="#fff" stroke="#da3348" stroke-width="3.2" stroke-linejoin="round"/>
<rect x="1249.7" y="3898.4" width="19.8" height="22.6" fill="#fff" stroke="#da3348" stroke-width="3.2" stroke-linejoin="round"/>
<rect x="1336" y="3869.1" width="19.8" height="22.6" fill="#fff" stroke="#da3348" stroke-width="3.2" stroke-linejoin="round"/>
<rect x="1421.6" y="3682" width="19.8" height="22.6" fill="#fff" stroke="#da3348" stroke-width="3.2" stroke-linejoin="round"/>
<path d="M230.6,4171.5 L243.5,4188 L258,4188 L287.1,4180.6 L316.5,4035.5 L344.2,3940 L372.9,3955.3 L401.6,3930.8 L430,3856.8 L458.7,3894.5 L487.1,3902.6 L516.1,3902.6 L544.8,3903.5 L573.2,3901 L602.2,3907.4 L630.6,3911.6 L659.3,3916.1 L688,3909.7 L716.4,3912.9 L744.8,3911.6 L773.8,3905.2 L802.5,3900 L830.6,3899 L859.6,3889 L888,3872.9 L916.4,3892.3 L945.1,3905.8 L974.2,3900 L1002.5,3895.5 L1031.6,3894.5 L1060,3913.9 L1088,3930 L1116.7,3933.5 L1145.8,3925.8 L1173.8,3898.1 L1202.9,3886.1 L1231.3,3880.6 L1259.6,3863.5 L1288.7,3855.5 L1317.3,3848 L1346.1,3820.1 L1374.9,3766 L1402.9,3700.5 L1431.8,3560 L1452.6,2950" stroke="#e55628" stroke-width="3.0"/>
<ellipse cx="231" cy="4188.6" rx="11.5" ry="13.1" fill="#fff" stroke="#e55628" stroke-width="3.2" stroke-linejoin="round"/>
<ellipse cx="316.5" cy="4035.5" rx="11.5" ry="13.1" fill="#fff" stroke="#e55628" stroke-width="3.2" stroke-linejoin="round"/>
<ellipse cx="401.6" cy="3930.8" rx="11.5" ry="13.1" fill="#fff" stroke="#e55628" stroke-width="3.2" stroke-linejoin="round"/>
<ellipse cx="487.1" cy="3902.6" rx="11.5" ry="13.1" fill="#fff" stroke="#e55628" stroke-width="3.2" stroke-linejoin="round"/>
<ellipse cx="573.2" cy="3901" rx="11.5" ry="13.1" fill="#fff" stroke="#e55628" stroke-width="3.2" stroke-linejoin="round"/>
<ellipse cx="659.3" cy="3916.1" rx="11.5" ry="13.1" fill="#fff" stroke="#e55628" stroke-width="3.2" stroke-linejoin="round"/>
<ellipse cx="744.8" cy="3911.6" rx="11.5" ry="13.1" fill="#fff" stroke="#e55628" stroke-width="3.2" stroke-linejoin="round"/>
<ellipse cx="830.6" cy="3899" rx="11.5" ry="13.1" fill="#fff" stroke="#e55628" stroke-width="3.2" stroke-linejoin="round"/>
<ellipse cx="916.4" cy="3892.3" rx="11.5" ry="13.1" fill="#fff" stroke="#e55628" stroke-width="3.2" stroke-linejoin="round"/>
<ellipse cx="1002.5" cy="3895.5" rx="11.5" ry="13.1" fill="#fff" stroke="#e55628" stroke-width="3.2" stroke-linejoin="round"/>
<ellipse cx="1088" cy="3930" rx="11.5" ry="13.1" fill="#fff" stroke="#e55628" stroke-width="3.2" stroke-linejoin="round"/>
<ellipse cx="1173.8" cy="3898.1" rx="11.5" ry="13.1" fill="#fff" stroke="#e55628" stroke-width="3.2" stroke-linejoin="round"/>
<ellipse cx="1259.6" cy="3863.5" rx="11.5" ry="13.1" fill="#fff" stroke="#e55628" stroke-width="3.2" stroke-linejoin="round"/>
<ellipse cx="1346.1" cy="3820.1" rx="11.5" ry="13.1" fill="#fff" stroke="#e55628" stroke-width="3.2" stroke-linejoin="round"/>
<ellipse cx="1431.8" cy="3560" rx="11.5" ry="13.1" fill="#fff" stroke="#e55628" stroke-width="3.2" stroke-linejoin="round"/>
<path d="M230.6,4171 L243.5,4188 L258,4188 L287.1,4176.8 L315.5,4008.1 L344.2,3899.4 L372.9,3909.7 L401.6,3898.5 L430,3812.3 L458.7,3864.5 L487.1,3863.9 L516.1,3862.3 L544.8,3862.9 L573.2,3868.7 L602.2,3878.4 L630.6,3883.2 L659.3,3875.2 L688,3880 L716.4,3874.2 L744.8,3865.5 L773.8,3859 L802.5,3856.8 L830.6,3846.1 L859.6,3835.8 L888,3837.4 L916.4,3859 L945.1,3875.2 L974.2,3864.5 L1002.5,3859 L1031.6,3872.9 L1060,3885.8 L1088,3898.7 L1116.7,3895.8 L1145.8,3881.9 L1173.8,3857.1 L1202.9,3847.4 L1231.3,3839.4 L1259.6,3816.8 L1288.7,3796.8 L1317.3,3788 L1346.1,3752.5 L1374.9,3684.5 L1403.1,3602.2 L1431.8,3424 L1439.1,3026 L1440.5,2950" stroke="#3e66b1" stroke-width="3.0"/>
<polygon points="231,4169.6 245,4197.6 217,4197.6" fill="#fff" stroke="#3e66b1" stroke-width="3.2" stroke-linejoin="round"/>
<polygon points="315.5,3989.1 329.5,4017.1 301.5,4017.1" fill="#fff" stroke="#3e66b1" stroke-width="3.2" stroke-linejoin="round"/>
<polygon points="401.6,3879.5 415.6,3907.5 387.6,3907.5" fill="#fff" stroke="#3e66b1" stroke-width="3.2" stroke-linejoin="round"/>
<polygon points="487.1,3844.9 501.1,3872.9 473.1,3872.9" fill="#fff" stroke="#3e66b1" stroke-width="3.2" stroke-linejoin="round"/>
<polygon points="573.2,3849.7 587.2,3877.7 559.2,3877.7" fill="#fff" stroke="#3e66b1" stroke-width="3.2" stroke-linejoin="round"/>
<polygon points="659.3,3856.2 673.3,3884.2 645.3,3884.2" fill="#fff" stroke="#3e66b1" stroke-width="3.2" stroke-linejoin="round"/>
<polygon points="744.8,3846.5 758.8,3874.5 730.8,3874.5" fill="#fff" stroke="#3e66b1" stroke-width="3.2" stroke-linejoin="round"/>
<polygon points="830.6,3827.1 844.6,3855.1 816.6,3855.1" fill="#fff" stroke="#3e66b1" stroke-width="3.2" stroke-linejoin="round"/>
<polygon points="916.4,3840 930.4,3868 902.4,3868" fill="#fff" stroke="#3e66b1" stroke-width="3.2" stroke-linejoin="round"/>
<polygon points="1002.5,3840 1016.5,3868 988.5,3868" fill="#fff" stroke="#3e66b1" stroke-width="3.2" stroke-linejoin="round"/>
<polygon points="1088,3879.7 1102,3907.7 1074,3907.7" fill="#fff" stroke="#3e66b1" stroke-width="3.2" stroke-linejoin="round"/>
<polygon points="1173.8,3838.1 1187.8,3866.1 1159.8,3866.1" fill="#fff" stroke="#3e66b1" stroke-width="3.2" stroke-linejoin="round"/>
<polygon points="1259.6,3797.8 1273.6,3825.8 1245.6,3825.8" fill="#fff" stroke="#3e66b1" stroke-width="3.2" stroke-linejoin="round"/>
<polygon points="1346.1,3733.5 1360.1,3761.5 1332.1,3761.5" fill="#fff" stroke="#3e66b1" stroke-width="3.2" stroke-linejoin="round"/>
<polygon points="1431.8,3405 1445.8,3433 1417.8,3433" fill="#fff" stroke="#3e66b1" stroke-width="3.2" stroke-linejoin="round"/>
<path d="M230.6,4171 L243.5,4188 L258,4188 L287.1,4175.8 L315.5,3969.4 L344.2,3856.8 L372.9,3863.2 L401.6,3859 L430,3783.2 L458.7,3826.8 L487.1,3817.1 L516.1,3823.5 L544.8,3831 L573.2,3838.7 L602.2,3848.4 L630.6,3841.3 L659.3,3844.5 L688,3837.4 L716.4,3824.5 L744.8,3819.4 L773.8,3811.6 L802.5,3801 L830.6,3795.2 L859.6,3794.5 L888,3798.7 L916.4,3831.6 L945.1,3849.4 L974.2,3836.5 L1002.5,3836.5 L1031.6,3825.8 L1060,3833.2 L1088,3855.8 L1116.7,3862.6 L1145.8,3845.8 L1173.8,3818.4 L1202.9,3799 L1231.3,3787.7 L1259.6,3760.3 L1288.7,3739.4 L1317.3,3726.2 L1345.8,3646 L1375,3634.3 L1402.3,3499.8 L1432,3202 L1433.7,3026 L1434,2950" stroke="#4aa96b" stroke-width="3.0"/>
<polygon points="218.2,4179.2 246.4,4179.2 232.3,4207.7" fill="#fff" stroke="#4aa96b" stroke-width="3.2" stroke-linejoin="round"/>
<polygon points="301.4,3959.4 329.6,3959.4 315.5,3987.9" fill="#fff" stroke="#4aa96b" stroke-width="3.2" stroke-linejoin="round"/>
<polygon points="387.5,3849 415.7,3849 401.6,3877.5" fill="#fff" stroke="#4aa96b" stroke-width="3.2" stroke-linejoin="round"/>
<polygon points="473,3807.1 501.2,3807.1 487.1,3835.6" fill="#fff" stroke="#4aa96b" stroke-width="3.2" stroke-linejoin="round"/>
<polygon points="559.1,3828.7 587.3,3828.7 573.2,3857.2" fill="#fff" stroke="#4aa96b" stroke-width="3.2" stroke-linejoin="round"/>
<polygon points="645.2,3834.5 673.4,3834.5 659.3,3863" fill="#fff" stroke="#4aa96b" stroke-width="3.2" stroke-linejoin="round"/>
<polygon points="730.7,3809.4 758.9,3809.4 744.8,3837.9" fill="#fff" stroke="#4aa96b" stroke-width="3.2" stroke-linejoin="round"/>
<polygon points="816.5,3785.2 844.7,3785.2 830.6,3813.7" fill="#fff" stroke="#4aa96b" stroke-width="3.2" stroke-linejoin="round"/>
<polygon points="902.3,3821.6 930.5,3821.6 916.4,3850.1" fill="#fff" stroke="#4aa96b" stroke-width="3.2" stroke-linejoin="round"/>
<polygon points="988.4,3826.5 1016.6,3826.5 1002.5,3855" fill="#fff" stroke="#4aa96b" stroke-width="3.2" stroke-linejoin="round"/>
<polygon points="1073.9,3845.8 1102.1,3845.8 1088,3874.3" fill="#fff" stroke="#4aa96b" stroke-width="3.2" stroke-linejoin="round"/>
<polygon points="1159.7,3808.4 1187.9,3808.4 1173.8,3836.9" fill="#fff" stroke="#4aa96b" stroke-width="3.2" stroke-linejoin="round"/>
<polygon points="1245.5,3750.3 1273.7,3750.3 1259.6,3778.8" fill="#fff" stroke="#4aa96b" stroke-width="3.2" stroke-linejoin="round"/>
<polygon points="1331.7,3636 1359.9,3636 1345.8,3664.5" fill="#fff" stroke="#4aa96b" stroke-width="3.2" stroke-linejoin="round"/>
<polygon points="1417.9,3192 1446.1,3192 1432,3220.5" fill="#fff" stroke="#4aa96b" stroke-width="3.2" stroke-linejoin="round"/>
<path d="M230.6,4171 L243.5,4188 L258,4188 L287.1,4171.6 L315.5,3941 L344.2,3812.9 L372.9,3816.1 L401.6,3814.8 L430,3763.2 L458.7,3775.8 L487.1,3776.1 L516.1,3794.5 L544.8,3797.7 L573.2,3812.9 L602.2,3808.4 L630.6,3806.8 L659.3,3801.9 L688,3787.1 L716.4,3780 L744.8,3766.5 L773.8,3754.8 L802.5,3751 L830.6,3749.4 L859.6,3748.7 L888,3763.2 L916.4,3809 L945.1,3824.5 L974.2,3818.1 L1002.5,3787.1 L1031.6,3771.9 L1060,3780.6 L1088,3812.9 L1116.7,3822.6 L1145.8,3816.1 L1173.8,3769 L1202.9,3750.6 L1231.3,3726.5 L1259.6,3696.8 L1288.7,3676.5 L1317.7,3647.4 L1346.3,3575.5 L1375.1,3522.2 L1402.6,3322.8 L1427.1,2950" stroke="#9168bc" stroke-width="3.0"/>
<polygon points="231,4171.8 245.5,4188.6 231,4205.4 216.5,4188.6" fill="#fff" stroke="#9168bc" stroke-width="3.2" stroke-linejoin="round"/>
<polygon points="315.5,3924.2 330,3941 315.5,3957.8 301,3941" fill="#fff" stroke="#9168bc" stroke-width="3.2" stroke-linejoin="round"/>
<polygon points="401.6,3798 416.1,3814.8 401.6,3831.6 387.1,3814.8" fill="#fff" stroke="#9168bc" stroke-width="3.2" stroke-linejoin="round"/>
<polygon points="487.1,3759.3 501.6,3776.1 487.1,3792.9 472.6,3776.1" fill="#fff" stroke="#9168bc" stroke-width="3.2" stroke-linejoin="round"/>
<polygon points="573.2,3796.1 587.7,3812.9 573.2,3829.7 558.7,3812.9" fill="#fff" stroke="#9168bc" stroke-width="3.2" stroke-linejoin="round"/>
<polygon points="659.3,3785.1 673.8,3801.9 659.3,3818.7 644.8,3801.9" fill="#fff" stroke="#9168bc" stroke-width="3.2" stroke-linejoin="round"/>
<polygon points="744.8,3749.7 759.3,3766.5 744.8,3783.3 730.3,3766.5" fill="#fff" stroke="#9168bc" stroke-width="3.2" stroke-linejoin="round"/>
<polygon points="830.6,3732.6 845.1,3749.4 830.6,3766.2 816.1,3749.4" fill="#fff" stroke="#9168bc" stroke-width="3.2" stroke-linejoin="round"/>
<polygon points="916.4,3792.2 930.9,3809 916.4,3825.8 901.9,3809" fill="#fff" stroke="#9168bc" stroke-width="3.2" stroke-linejoin="round"/>
<polygon points="1002.5,3770.3 1017,3787.1 1002.5,3803.9 988,3787.1" fill="#fff" stroke="#9168bc" stroke-width="3.2" stroke-linejoin="round"/>
<polygon points="1088,3796.1 1102.5,3812.9 1088,3829.7 1073.5,3812.9" fill="#fff" stroke="#9168bc" stroke-width="3.2" stroke-linejoin="round"/>
<polygon points="1173.8,3752.2 1188.3,3769 1173.8,3785.8 1159.3,3769" fill="#fff" stroke="#9168bc" stroke-width="3.2" stroke-linejoin="round"/>
<polygon points="1259.6,3680 1274.1,3696.8 1259.6,3713.6 1245.1,3696.8" fill="#fff" stroke="#9168bc" stroke-width="3.2" stroke-linejoin="round"/>
<polygon points="1346.3,3558.7 1360.8,3575.5 1346.3,3592.3 1331.8,3575.5" fill="#fff" stroke="#9168bc" stroke-width="3.2" stroke-linejoin="round"/>
</g>
<rect x="229.5" y="3026.3" width="1260.2" height="1163.6" fill="none" stroke="#231f20" stroke-width="3"/>
<path d="M229.5,3899 h13.5 M229.5,3608.1 h13.5 M229.5,3317.2 h13.5 M481.5,4189.9 v-12.5 M733.6,4189.9 v-12.5 M985.6,4189.9 v-12.5 M1237.7,4189.9 v-12.5" stroke="#231f20" stroke-width="2.6" fill="none"/>
<text x="191.5" y="3914.2" font-size="56" text-anchor="end">10</text>
<text x="191.5" y="3623.3" font-size="56" text-anchor="end">20</text>
<text x="191.5" y="3332.4" font-size="56" text-anchor="end">30</text>
<text x="191.5" y="3041.5" font-size="56" text-anchor="end">40</text>
<text x="191.5" y="4266.3" font-size="56" text-anchor="end">0</text>
<text x="481.5" y="4266.3" font-size="56" text-anchor="middle">0.2</text>
<text x="733.6" y="4266.3" font-size="56" text-anchor="middle">0.4</text>
<text x="985.6" y="4266.3" font-size="56" text-anchor="middle">0.6</text>
<text x="1237.7" y="4266.3" font-size="56" text-anchor="middle">0.8</text>
<text x="1489.7" y="4266.3" font-size="56" text-anchor="middle">1.0</text>
<text x="859.6" y="4345.7" font-size="56" text-anchor="middle">Nominal strain</text>
<text transform="translate(96.3,3595.6) rotate(-90)" x="0" y="0" font-size="56" text-anchor="middle">Nominal stress/MPa</text>
<text x="251.5" y="3086.1" font-size="56">(c) 100 m/s</text>
<path d="M315,3181.6 H458.5" stroke="#da3348" stroke-width="2.5"/>
<rect x="376.6" y="3170.3" width="19.8" height="22.6" fill="#fff" stroke="#da3348" stroke-width="3.2" stroke-linejoin="round"/>
<text x="471.5" y="3197.6" font-size="56"><tspan font-style="italic">t</tspan>=0.40 mm</text>
<path d="M316.8,3244.2 H456.7" stroke="#3e66b1" stroke-width="2.5"/>
<polygon points="386.5,3225.2 400.5,3253.2 372.5,3253.2" fill="#fff" stroke="#3e66b1" stroke-width="3.2" stroke-linejoin="round"/>
<text x="471.5" y="3260.2" font-size="56"><tspan font-style="italic">t</tspan>=0.50 mm</text>
<path d="M316.8,3310.2 H456.7" stroke="#9168bc" stroke-width="2.5"/>
<polygon points="386.5,3293.4 401,3310.2 386.5,3327 372,3310.2" fill="#fff" stroke="#9168bc" stroke-width="3.2" stroke-linejoin="round"/>
<text x="471.5" y="3326.2" font-size="56"><tspan font-style="italic">t</tspan>=0.60 mm</text>
<path d="M900.3,3181.6 H1040.6" stroke="#e55628" stroke-width="2.5"/>
<ellipse cx="970.5" cy="3181.6" rx="11.5" ry="13.1" fill="#fff" stroke="#e55628" stroke-width="3.2" stroke-linejoin="round"/>
<text x="1054.3" y="3197.6" font-size="56"><tspan font-style="italic">t</tspan>=0.45 mm</text>
<path d="M900.3,3244.2 H1040.6" stroke="#4aa96b" stroke-width="2.5"/>
<polygon points="956.4,3234.2 984.6,3234.2 970.5,3262.7" fill="#fff" stroke="#4aa96b" stroke-width="3.2" stroke-linejoin="round"/>
<text x="1054.3" y="3260.2" font-size="56"><tspan font-style="italic">t</tspan>=0.55 mm</text></g>
</svg></body></html>
